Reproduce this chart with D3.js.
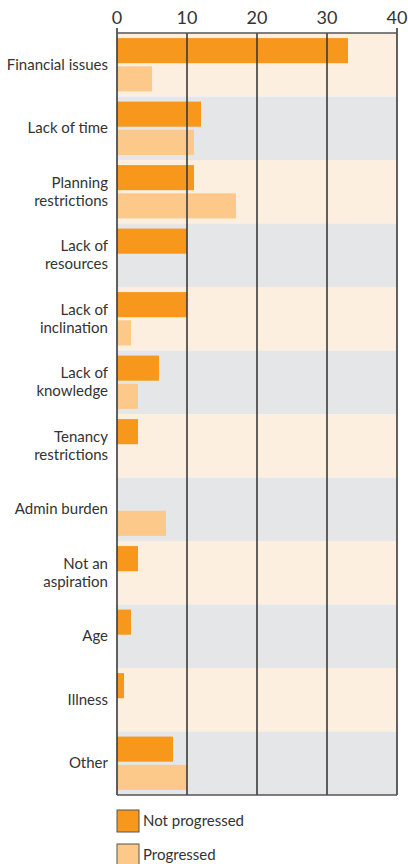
<!DOCTYPE html>
<html>
<head>
<meta charset="utf-8">
<script src="https://cdn.jsdelivr.net/npm/d3@7"></script>
<style>
  body { margin: 0; background: #fff; }
  svg { display: block; font-family: Lato, "Open Sans", sans-serif; }
</style>
</head>
<body>
<div id="chart"></div>
<script>
// categories, top to bottom (each label split in lines)
const categories = [
  ["Financial issues"],
  ["Lack of time"],
  ["Planning", "restrictions"],
  ["Lack of", "resources"],
  ["Lack of", "inclination"],
  ["Lack of", "knowledge"],
  ["Tenancy", "restrictions"],
  ["Admin burden"],
  ["Not an", "aspiration"],
  ["Age"],
  ["Illness"],
  ["Other"]
];
const notProgressed = [33, 12, 11, 10, 10, 6, 3, 0, 3, 2, 1, 8];
const progressed    = [5, 11, 17, 0, 2, 3, 0, 7, 0, 0, 0, 10];
const seriesNames = ["Not progressed", "Progressed"];
const xTicks = [0, 10, 20, 30, 40];

const width = 408, height = 864;
const margin = { top: 33, left: 117, right: 11, bottom: 69 };
const colors = ["#f7981d", "#fdc98a"];
const bands = ["#fdefe0", "#e5e6e8"];

const svg = d3.select("#chart").append("svg")
  .attr("width", width)
  .attr("height", height);

const x = d3.scaleLinear().domain([0, 40]).range([margin.left, width - margin.right]);
const y = d3.scaleBand().domain(d3.range(categories.length))
  .range([margin.top, height - margin.bottom]);
const inner = d3.scaleBand().domain([0, 1])
  .range([0, y.bandwidth()]).paddingInner(0.11).paddingOuter(0.18);

// row bands
svg.append("g").selectAll("rect")
  .data(categories)
  .join("rect")
  .attr("x", x(0))
  .attr("y", (d, i) => y(i))
  .attr("width", x(40) - x(0))
  .attr("height", y.bandwidth())
  .attr("fill", (d, i) => bands[i % 2]);

// bars
const rows = svg.append("g").selectAll("g")
  .data(categories.map((c, i) => [notProgressed[i], progressed[i]]))
  .join("g")
  .attr("transform", (d, i) => `translate(0,${y(i)})`);

rows.selectAll("rect")
  .data(d => d)
  .join("rect")
  .attr("x", x(0))
  .attr("y", (d, j) => inner(j))
  .attr("width", d => x(d) - x(0))
  .attr("height", inner.bandwidth())
  .attr("fill", (d, j) => colors[j]);

// grid lines
svg.append("g").selectAll("line")
  .data(xTicks)
  .join("line")
  .attr("x1", d => x(d)).attr("x2", d => x(d))
  .attr("y1", d => (d === 0 || d === 40) ? margin.top - 5 : margin.top)
  .attr("y2", height - margin.bottom)
  .attr("stroke", "#3a3a3a")
  .attr("stroke-width", 1.6);

// top and bottom frame
[margin.top, height - margin.bottom].forEach(yy => {
  svg.append("line")
    .attr("x1", x(0)).attr("x2", x(40))
    .attr("y1", yy).attr("y2", yy)
    .attr("stroke", "#555")
    .attr("stroke-width", 1.6);
});

// top axis labels
svg.append("g").selectAll("text")
  .data(xTicks)
  .join("text")
  .attr("x", d => x(d))
  .attr("y", 24)
  .attr("text-anchor", "middle")
  .attr("font-size", 18)
  .attr("fill", "#333")
  .text(d => d);

// category labels
const lineH = 18;
svg.append("g").selectAll("text")
  .data(categories)
  .join("text")
  .attr("text-anchor", "end")
  .attr("font-size", 15)
  .attr("fill", "#333")
  .attr("transform", (d, i) => `translate(108,${y(i) + y.bandwidth() / 2 + 5 - (d.length - 1) * lineH / 2})`)
  .selectAll("tspan")
  .data(d => d)
  .join("tspan")
  .attr("x", 0)
  .attr("dy", (d, k) => k === 0 ? 0 : lineH)
  .text(d => d);

// legend
const legend = svg.append("g").selectAll("g")
  .data(seriesNames)
  .join("g")
  .attr("transform", (d, i) => `translate(${x(0)},${810 + i * 34})`);

legend.append("rect")
  .attr("width", 22)
  .attr("height", 22)
  .attr("fill", (d, i) => colors[i])
  .attr("stroke", "#555")
  .attr("stroke-width", 1);

legend.append("text")
  .attr("x", 26)
  .attr("y", 16)
  .attr("font-size", 15)
  .attr("fill", "#333")
  .text(d => d);
</script>
</body>
</html>
